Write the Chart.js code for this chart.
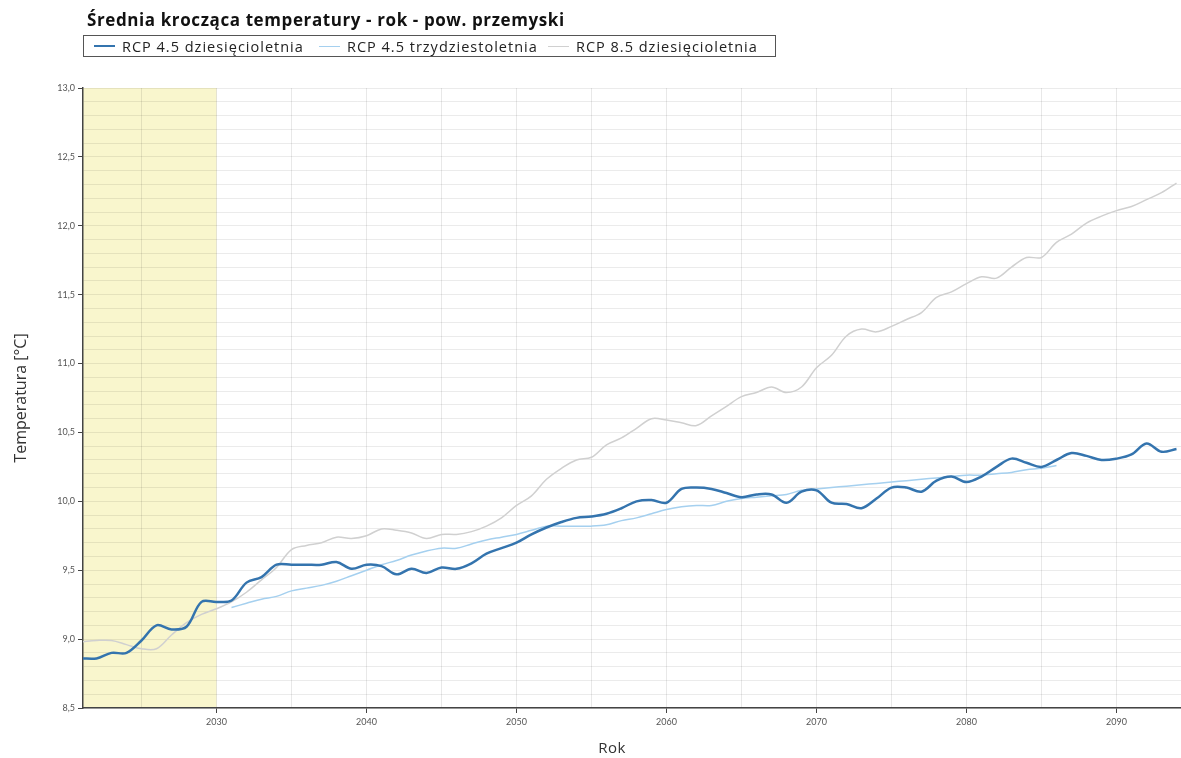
<!DOCTYPE html>
<html lang="pl">
<head>
<meta charset="utf-8">
<script src="https://cdn.jsdelivr.net/npm/chart.js@4.4.1/dist/chart.umd.min.js"></script>
<style>
    html, body { margin: 0; padding: 0; background: #fff; }
    body { width: 1181px; height: 758px; position: relative; overflow: hidden; font-family: "Open Sans", Lato, sans-serif; }
    #title { position: absolute; left: 87px; top: 8px; font-size: 17px; font-weight: bold; letter-spacing: 0.6px; color: #111; white-space: nowrap; z-index: 2; }
    #legend { position: absolute; left: 83px; top: 35px; width: 691px; height: 20px; border: 1px solid #555; font-size: 14.5px; letter-spacing: 1px; color: #222; white-space: nowrap; z-index: 2; }
    #legend .item { position: absolute; top: 0; height: 20px; display: flex; align-items: center; }
    #legend .sw { display: inline-block; width: 21px; margin-right: 7px; }
    #xtitle { position: absolute; left: 612px; top: 737px; transform: translateX(-50%); font-size: 15px; letter-spacing: 0.5px; color: #333; z-index: 2; }
    #wrap { position: absolute; left: 0; top: 0; width: 1181px; height: 758px; }
</style>
</head>
<body>
<div id="title">Średnia krocząca temperatury - rok - pow. przemyski</div>
<div id="legend"></div>
<div id="xtitle">Rok</div>
<div id="wrap"><canvas id="chart"></canvas></div>
<script>
const years = [
    2021, 2022, 2023, 2024, 2025, 2026, 2027, 2028, 2029, 2030,
    2031, 2032, 2033, 2034, 2035, 2036, 2037, 2038, 2039, 2040,
    2041, 2042, 2043, 2044, 2045, 2046, 2047, 2048, 2049, 2050,
    2051, 2052, 2053, 2054, 2055, 2056, 2057, 2058, 2059, 2060,
    2061, 2062, 2063, 2064, 2065, 2066, 2067, 2068, 2069, 2070,
    2071, 2072, 2073, 2074, 2075, 2076, 2077, 2078, 2079, 2080,
    2081, 2082, 2083, 2084, 2085, 2086, 2087, 2088, 2089, 2090,
    2091, 2092, 2093, 2094
];

// RCP 4.5 dziesięcioletnia
const rcp45dec = [
    8.86, 8.86, 8.90, 8.90, 8.99, 9.10, 9.07, 9.09, 9.27, 9.27,
    9.28, 9.41, 9.45, 9.54, 9.54, 9.54, 9.54, 9.56, 9.51, 9.54,
    9.53, 9.47, 9.51, 9.48, 9.52, 9.51, 9.55, 9.62, 9.66, 9.70,
    9.76, 9.81, 9.85, 9.88, 9.89, 9.91, 9.95, 10.00, 10.01, 9.99,
    10.09, 10.10, 10.09, 10.06, 10.03, 10.05, 10.05, 9.99, 10.07, 10.08,
    9.99, 9.98, 9.95, 10.02, 10.10, 10.10, 10.07, 10.15, 10.18, 10.14,
    10.18, 10.25, 10.31, 10.28, 10.25, 10.30, 10.35, 10.33, 10.30, 10.31,
    10.34, 10.42, 10.36, 10.38
];

// RCP 4.5 trzydziestoletnia
const rcp45tri = [
    null, null, null, null, null, null, null, null, null, null,
    9.23, 9.26, 9.29, 9.31, 9.35, 9.37, 9.39, 9.42, 9.46, 9.50,
    9.54, 9.57, 9.61, 9.64, 9.66, 9.66, 9.69, 9.72, 9.74, 9.76,
    9.79, 9.82, 9.82, 9.82, 9.82, 9.83, 9.86, 9.88, 9.91, 9.94,
    9.96, 9.97, 9.97, 10.00, 10.02, 10.03, 10.04, 10.05, 10.08, 10.09,
    10.10, 10.11, 10.12, 10.13, 10.14, 10.15, 10.16, 10.17, 10.18, 10.19,
    10.19, 10.20, 10.21, 10.23, 10.24, 10.26, null, null, null, null,
    null, null, null, null
];

// RCP 8.5 dziesięcioletnia
const rcp85dec = [
    8.98, 8.99, 8.99, 8.96, 8.93, 8.93, 9.03, 9.12, 9.18, 9.22,
    9.27, 9.34, 9.43, 9.52, 9.65, 9.68, 9.70, 9.74, 9.73, 9.75,
    9.80, 9.79, 9.77, 9.73, 9.76, 9.76, 9.78, 9.82, 9.88, 9.97,
    10.04, 10.16, 10.24, 10.30, 10.32, 10.41, 10.46, 10.53, 10.60, 10.59,
    10.57, 10.55, 10.62, 10.69, 10.76, 10.79, 10.83, 10.79, 10.83, 10.97,
    11.06, 11.20, 11.25, 11.23, 11.27, 11.32, 11.37, 11.48, 11.52, 11.58,
    11.63, 11.62, 11.70, 11.77, 11.77, 11.88, 11.94, 12.02, 12.07, 12.11,
    12.14, 12.19, 12.24, 12.31
];

const seriesNames = ['RCP 4.5 dziesięcioletnia', 'RCP 4.5 trzydziestoletnia', 'RCP 8.5 dziesięcioletnia'];
const seriesColors = ['#3474ae', '#a5d0ef', '#d0d0d0'];
const seriesWidths = [2.5, 1.5, 1.5];
const seriesValues = [rcp45dec, rcp45tri, rcp85dec];

const xMin = 2021.1, xMax = 2094.3;
const yMin = 8.5, yMax = 13.0;
const bandFrom = 2021.1, bandTo = 2030; // żółte tło do 2030

// legenda w HTML (z ramką)
const legendOffsets = [10, 235, 464];
const legendEl = document.getElementById('legend');
seriesNames.forEach((name, i) => {
    const item = document.createElement('span');
    item.className = 'item';
    item.style.left = legendOffsets[i] + 'px';
    const sw = document.createElement('span');
    sw.className = 'sw';
    sw.style.borderTop = seriesWidths[i] + 'px solid ' + seriesColors[i];
    item.appendChild(sw);
    item.appendChild(document.createTextNode(name));
    legendEl.appendChild(item);
});

const bandPlugin = {
    id: 'band',
    beforeDraw(chart) {
        const { ctx, chartArea, scales } = chart;
        const x1 = scales.x.getPixelForValue(bandFrom);
        const x2 = scales.x.getPixelForValue(bandTo);
        ctx.save();
        ctx.fillStyle = '#f9f6cd';
        ctx.fillRect(x1, chartArea.top, x2 - x1, chartArea.bottom - chartArea.top);
        ctx.restore();
    }
};

const ctx = document.getElementById('chart').getContext('2d');

new Chart(ctx, {
    type: 'line',
    data: {
        datasets: seriesNames.map((name, i) => ({
            label: name,
            data: years.map((y, j) => ({ x: y, y: seriesValues[i][j] })).filter(p => p.y !== null),
            borderColor: seriesColors[i],
            backgroundColor: seriesColors[i],
            borderWidth: seriesWidths[i],
            pointRadius: 0,
            tension: 0.35,
            fill: false
        }))
    },
    options: {
        responsive: true,
        maintainAspectRatio: false,
        animation: false,
        layout: { padding: { top: 88, right: 0, left: 0, bottom: 0 } },
        plugins: {
            legend: { display: false },
            title: { display: false },
            tooltip: { enabled: false }
        },
        scales: {
            x: {
                type: 'linear',
                min: xMin,
                max: xMax,
                afterFit: (s) => { s.height = 50; },
                border: { color: '#444', width: 1.5 },
                grid: {
                    color: 'rgba(0,0,0,0.09)',
                    tickLength: 5,
                    tickColor: (c) => (c.tick && c.tick.value % 10 === 0) ? '#444' : 'rgba(0,0,0,0)'
                },
                ticks: {
                    stepSize: 5,
                    includeBounds: false,
                    maxRotation: 0,
                    autoSkip: false,
                    padding: 4,
                    color: '#555',
                    font: { size: 9, family: 'Lato' },
                    callback: (v) => v % 10 === 0 ? String(v) : ''
                }
            },
            y: {
                min: yMin,
                max: yMax,
                afterFit: (s) => { s.width = 83; },
                border: { color: '#444', width: 1.5 },
                grid: {
                    color: 'rgba(0,0,0,0.08)',
                    tickLength: 5,
                    tickColor: (c) => (c.tick && Math.round(c.tick.value * 10) % 5 === 0) ? '#444' : 'rgba(0,0,0,0)'
                },
                ticks: {
                    stepSize: 0.1,
                    autoSkip: false,
                    padding: 3,
                    color: '#555',
                    font: { size: 9, family: 'Lato' },
                    callback: (v) => Math.round(v * 10) % 5 === 0 ? v.toFixed(1).replace('.', ',') : ''
                },
                title: {
                    display: true,
                    text: 'Temperatura [°C]',
                    color: '#333',
                    font: { size: 16, family: 'Open Sans' },
                    padding: { top: 12, bottom: 4 }
                }
            }
        }
    },
    plugins: [bandPlugin]
});
</script>
</body>
</html>
